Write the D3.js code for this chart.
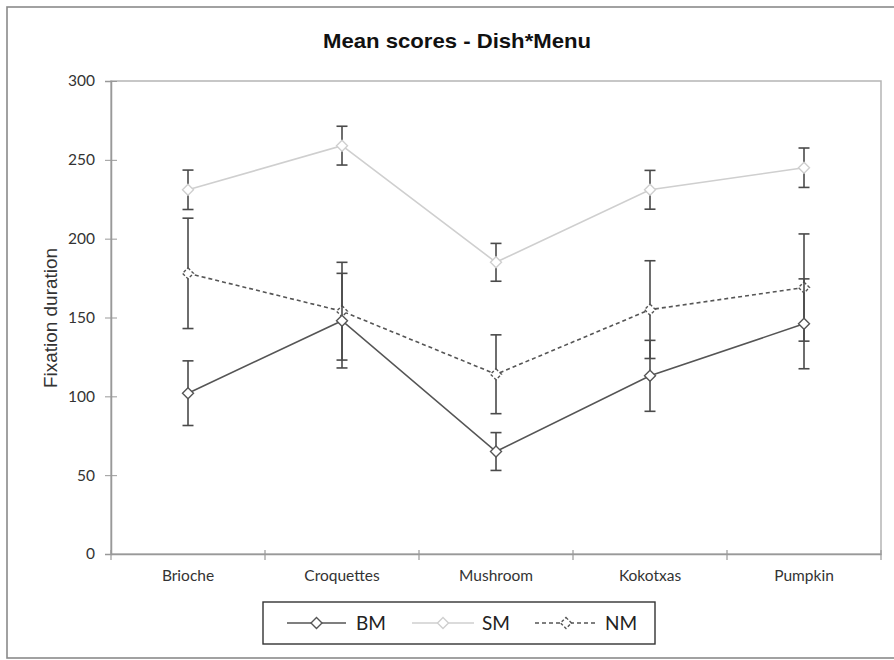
<!DOCTYPE html>
<html>
<head>
<meta charset="utf-8">
<script src="https://cdn.jsdelivr.net/npm/d3@7"></script>
<style>
  html, body { margin: 0; padding: 0; background: #fff; }
  svg { display: block; }
</style>
</head>
<body>
<svg id="chart" width="894" height="660"></svg>
<script>
// ---- data ----
const categories = ["Brioche", "Croquettes", "Mushroom", "Kokotxas", "Pumpkin"];
const seriesNames = ["BM", "SM", "NM"];
const bmMeans = [102, 148, 65, 113, 146];
const bmErrors = [20.5, 30, 12, 22.5, 28.5];
const smMeans = [231, 259, 185, 231, 245];
const smErrors = [12.5, 12.3, 12, 12.3, 12.5];
const nmMeans = [178, 154, 114, 155, 169];
const nmErrors = [35, 31, 25, 31, 34];
const yTicks = [0, 50, 100, 150, 200, 250, 300];

const styles = {
  BM: { color: "#555", dash: null, marker: "#555" },
  SM: { color: "#cfcfcf", dash: null, marker: "#cfcfcf" },
  NM: { color: "#555", dash: "4,3", marker: "#555" }
};
const series = [
  { name: "BM", means: bmMeans, errs: bmErrors },
  { name: "SM", means: smMeans, errs: smErrors },
  { name: "NM", means: nmMeans, errs: nmErrors }
];

const svg = d3.select("#chart");
const plot = { left: 111, top: 81, right: 881, bottom: 554 };
const tickFont = "Lato, 'Open Sans', sans-serif";

// outer border
svg.append("rect").attr("x", 7).attr("y", 7).attr("width", 900).attr("height", 651)
  .attr("fill", "#fff").attr("stroke", "#8a8a8a").attr("stroke-width", 1.6);

const x = d3.scaleBand().domain(categories).range([plot.left, plot.right]);
const y = d3.scaleLinear().domain([0, 300]).range([plot.bottom, plot.top]);

// plot frame
svg.append("rect").attr("x", plot.left).attr("y", plot.top)
  .attr("width", plot.right - plot.left).attr("height", plot.bottom - plot.top)
  .attr("fill", "none").attr("stroke", "#b5b5b5").attr("stroke-width", 1.5);

// y axis
const yAxis = svg.append("g").attr("transform", `translate(${plot.left},0)`)
  .call(d3.axisLeft(y).tickValues(yTicks).tickSize(6).tickPadding(8));
yAxis.select(".domain").attr("stroke", "#999").attr("stroke-width", 1.5);
yAxis.selectAll(".tick line").attr("stroke", "#999").attr("x2", 6).attr("x1", -6);
yAxis.selectAll(".tick text").attr("font-family", tickFont)
  .attr("font-size", 15.5).attr("fill", "#333").attr("x", -16);

// x axis
const xAxis = svg.append("g").attr("transform", `translate(0,${plot.bottom})`)
  .call(d3.axisBottom(x).tickSize(0).tickPadding(16));
xAxis.select(".domain").attr("stroke", "#999").attr("stroke-width", 1.5);
xAxis.selectAll(".tick text").attr("font-family", tickFont)
  .attr("font-size", 15.5).attr("fill", "#333");
// band boundary tick marks
const bounds = categories.map(c => x(c)).concat([x(categories[categories.length - 1]) + x.bandwidth()]);
svg.append("g").selectAll("line").data(bounds).join("line")
  .attr("x1", d => d).attr("x2", d => d)
  .attr("y1", plot.bottom - 4).attr("y2", plot.bottom + 6)
  .attr("stroke", "#999").attr("stroke-width", 1.2);

// title
svg.append("text").attr("x", 457).attr("y", 48).attr("text-anchor", "middle")
  .attr("font-family", "'Liberation Sans', Arial, sans-serif").attr("font-weight", "bold")
  .attr("font-size", 21).attr("fill", "#111")
  .attr("textLength", 268).attr("lengthAdjust", "spacingAndGlyphs")
  .text("Mean scores - Dish*Menu");

// y label
svg.append("text").attr("transform", "translate(57,318) rotate(-90)").attr("text-anchor", "middle")
  .attr("font-family", "'Liberation Sans', Arial, sans-serif").attr("font-size", 18).attr("fill", "#333")
  .attr("textLength", 140).attr("lengthAdjust", "spacingAndGlyphs")
  .text("Fixation duration");

const cx = c => x(c) + x.bandwidth() / 2;
function diamondPath(r) {
  return `M0,${-r}L${r},0L0,${r}L${-r},0Z`;
}

// draw order: SM, NM, BM
const order = ["SM", "NM", "BM"];
order.forEach(name => {
  const s = series.find(d => d.name === name);
  const st = styles[name];
  const g = svg.append("g");
  const data = categories.map((c, i) => ({ c, m: s.means[i], e: s.errs[i] }));
  // error bars
  const eb = g.append("g").selectAll("g").data(data).join("g");
  eb.append("line").attr("x1", d => cx(d.c)).attr("x2", d => cx(d.c))
    .attr("y1", d => y(d.m + d.e)).attr("y2", d => y(d.m - d.e))
    .attr("stroke", "#4a4a4a").attr("stroke-width", 1.6);
  [1, -1].forEach(sign => {
    eb.append("line").attr("x1", d => cx(d.c) - 5.5).attr("x2", d => cx(d.c) + 5.5)
      .attr("y1", d => y(d.m + sign * d.e)).attr("y2", d => y(d.m + sign * d.e))
      .attr("stroke", "#4a4a4a").attr("stroke-width", 1.6);
  });
  // line
  const line = d3.line().x(d => cx(d.c)).y(d => y(d.m));
  g.append("path").datum(data).attr("d", line).attr("fill", "none")
    .attr("stroke", st.color).attr("stroke-width", 1.6)
    .attr("stroke-dasharray", st.dash);
  // markers
  g.append("g").selectAll("path").data(data).join("path")
    .attr("transform", d => `translate(${cx(d.c)},${y(d.m)})`)
    .attr("d", diamondPath(5.5)).attr("fill", "#fff")
    .attr("stroke", st.marker).attr("stroke-width", 1.4)
    .attr("stroke-dasharray", name === "NM" ? "3,2" : null);
});

// legend
const lg = svg.append("g");
lg.append("rect").attr("x", 263).attr("y", 602).attr("width", 392).attr("height", 42)
  .attr("fill", "#fff").attr("stroke", "#333").attr("stroke-width", 1.4);
const legendItems = [
  { name: "BM", x0: 287, x1: 346, tx: 356 },
  { name: "SM", x0: 412, x1: 474, tx: 482 },
  { name: "NM", x0: 535, x1: 597, tx: 605 }
];
legendItems.forEach(it => {
  const st = styles[it.name];
  lg.append("line").attr("x1", it.x0).attr("x2", it.x1).attr("y1", 623).attr("y2", 623)
    .attr("stroke", st.color).attr("stroke-width", 1.6).attr("stroke-dasharray", st.dash);
  lg.append("path").attr("transform", `translate(${(it.x0 + it.x1) / 2},623)`)
    .attr("d", diamondPath(5.5)).attr("fill", "#fff").attr("stroke", st.marker).attr("stroke-width", 1.4)
    .attr("stroke-dasharray", it.name === "NM" ? "3,2" : null);
  lg.append("text").attr("x", it.tx).attr("y", 630)
    .attr("font-family", tickFont).attr("font-size", 19).attr("fill", "#222")
    .text(it.name);
});
</script>
</body>
</html>
